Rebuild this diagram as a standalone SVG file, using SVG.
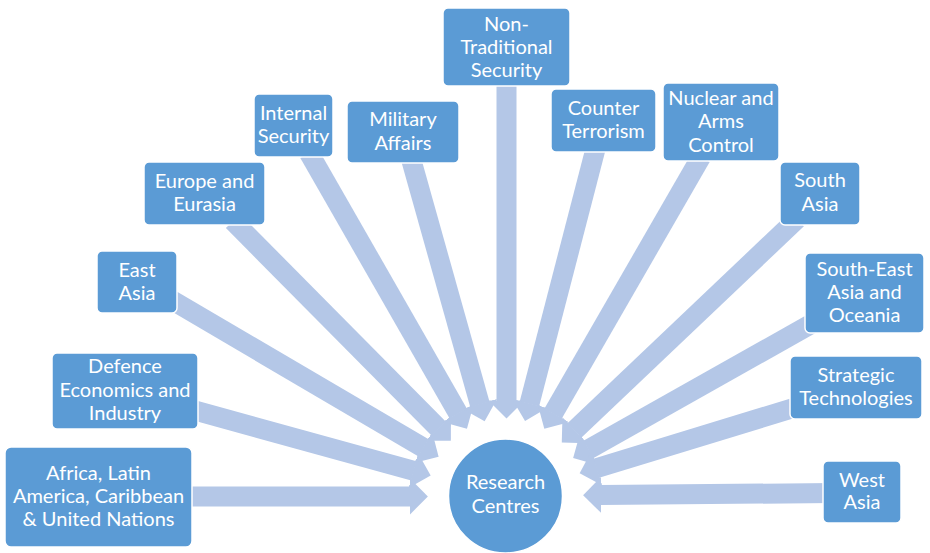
<svg xmlns="http://www.w3.org/2000/svg" width="930" height="553" viewBox="0 0 930 553">
<defs>
<style>
.box{fill:#5B9BD5;stroke:#FFFFFF;stroke-width:1.5}
.t{font-family:Lato,"Liberation Sans",sans-serif;font-size:20px;fill:#FFFFFF;text-anchor:middle}
.arr{stroke:#B4C7E7;stroke-width:20;fill:none;marker-end:url(#head)}
</style>
<marker id="head" markerUnits="strokeWidth" markerWidth="1" markerHeight="2" viewBox="0 -1 1 2" refX="0.03" refY="0" orient="auto">
<path d="M0,-0.9 L0.9,0 L0,0.9 Z" fill="#B4C7E7"/>
</marker>
</defs>
<rect width="930" height="553" fill="#FFFFFF"/>
<g id="connectors">
<line class="arr" x1="185" y1="496.5" x2="410.5" y2="496.5"/>
<line class="arr" x1="190" y1="409.2" x2="413.9" y2="470.8"/>
<line class="arr" x1="170" y1="299" x2="423.6" y2="447.9"/>
<line class="arr" x1="233" y1="221" x2="438.6" y2="428.5"/>
<line class="arr" x1="309" y1="153" x2="458.3" y2="413.6"/>
<line class="arr" x1="411" y1="159" x2="479.9" y2="404.5"/>
<line class="arr" x1="506.5" y1="80" x2="506.5" y2="401"/>
<line class="arr" x1="596" y1="147" x2="529.4" y2="404.1"/>
<line class="arr" x1="701" y1="157" x2="553" y2="413.7"/>
<line class="arr" x1="797" y1="219" x2="574.4" y2="430.6"/>
<line class="arr" x1="820" y1="319" x2="588.3" y2="449.5"/>
<line class="arr" x1="800" y1="406" x2="596.3" y2="468.2"/>
<line class="arr" x1="833" y1="493" x2="600.5" y2="495.1"/>
</g>
<g id="non-traditional-security"><rect class="box" x="443" y="8" width="127" height="78" rx="5"/><text class="t" x="506.5" y="31">Non-</text><text class="t" x="506.5" y="54">Traditional</text><text class="t" x="506.5" y="77">Security</text></g>
<g id="internal-security"><rect class="box" x="254" y="94" width="79" height="63" rx="5"/><text class="t" x="293.5" y="120">Internal</text><text class="t" x="293.5" y="143">Security</text></g>
<g id="military-affairs"><rect class="box" x="347" y="101" width="112" height="62" rx="5"/><text class="t" x="403" y="126">Military</text><text class="t" x="403" y="150">Affairs</text></g>
<g id="europe-eurasia"><rect class="box" x="144" y="162" width="121" height="63" rx="5"/><text class="t" x="204.5" y="188">Europe and</text><text class="t" x="204.5" y="211">Eurasia</text></g>
<g id="east-asia"><rect class="box" x="97" y="251" width="80" height="62" rx="5"/><text class="t" x="137" y="277">East</text><text class="t" x="137" y="300">Asia</text></g>
<g id="counter-terrorism"><rect class="box" x="551" y="89" width="105" height="63" rx="5"/><text class="t" x="603.5" y="115">Counter</text><text class="t" x="603.5" y="138">Terrorism</text></g>
<g id="nuclear-arms-control"><rect class="box" x="663" y="83" width="116" height="78" rx="5"/><text class="t" x="721" y="105">Nuclear and</text><text class="t" x="721" y="128">Arms</text><text class="t" x="721" y="152">Control</text></g>
<g id="south-asia"><rect class="box" x="780" y="162" width="80" height="63" rx="5"/><text class="t" x="820" y="187">South</text><text class="t" x="820" y="211">Asia</text></g>
<g id="south-east-asia-oceania"><rect class="box" x="805" y="253" width="119" height="80" rx="5"/><text class="t" x="864.5" y="276">South-East</text><text class="t" x="864.5" y="299">Asia and</text><text class="t" x="864.5" y="322">Oceania</text></g>
<g id="defence-economics"><rect class="box" x="52" y="353" width="146" height="76" rx="5"/><text class="t" x="125" y="373">Defence</text><text class="t" x="125" y="397">Economics and</text><text class="t" x="125" y="420">Industry</text></g>
<g id="africa-latin-america"><rect class="box" x="5" y="447" width="187" height="100" rx="6"/><text class="t" x="98.5" y="480">Africa, Latin</text><text class="t" x="98.5" y="503">America, Caribbean</text><text class="t" x="98.5" y="526">&amp; United Nations</text></g>
<g id="strategic-technologies"><rect class="box" x="790" y="356" width="132" height="63" rx="5"/><text class="t" x="856" y="382">Strategic</text><text class="t" x="856" y="405">Technologies</text></g>
<g id="west-asia"><rect class="box" x="823" y="461" width="78" height="62" rx="5"/><text class="t" x="862" y="487">West</text><text class="t" x="862" y="509">Asia</text></g>
<g id="research-centres"><circle cx="505.5" cy="496" r="57" fill="#5B9BD5" stroke="#FFFFFF" stroke-width="1.5"/><text class="t" x="505.5" y="489">Research</text><text class="t" x="505.5" y="513">Centres</text></g>
</svg>
